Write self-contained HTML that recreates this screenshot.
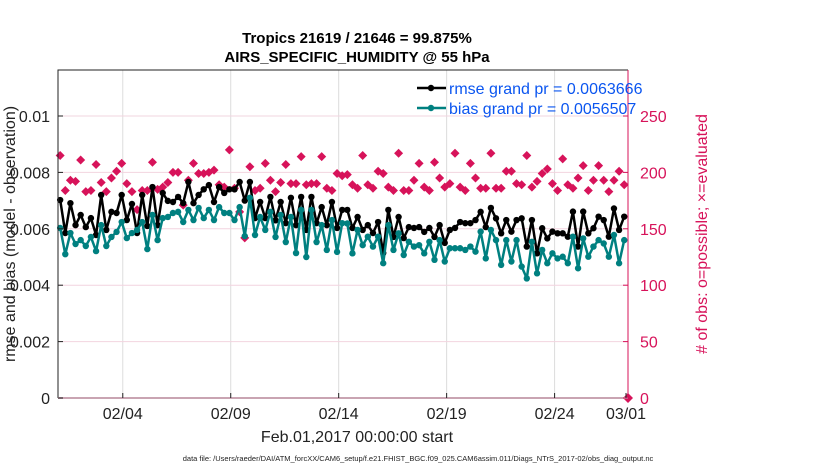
<!DOCTYPE html>
<html><head><meta charset="utf-8"><style>
body{margin:0;background:#fff;}
svg text{font-family:"Liberation Sans",sans-serif;}
</style></head><body>
<svg id="chart" width="830" height="470" xmlns="http://www.w3.org/2000/svg">
<rect width="830" height="470" fill="#fff"/>
<g id="grid"></g>
<g id="series"></g>
<g id="axes"></g>
</svg>
<script>
const rmseValues=[0.00702,0.00585,0.00691,0.00613,0.00649,0.00606,0.00638,0.00578,0.0072,0.00596,0.0066,0.00656,0.0072,0.00631,0.00688,0.00585,0.0072,0.0061,0.00748,0.00613,0.00727,0.00699,0.00695,0.00713,0.00691,0.00766,0.00691,0.0072,
0.0074,0.00755,0.00695,0.00748,0.00727,0.0074,0.0074,0.00766,0.007,0.00766,0.00638,0.00695,0.00638,0.00713,0.0063,0.00695,0.0062,0.0071,0.00613,0.00713,0.00596,0.00713,0.0062,0.00677,0.00613,0.00695,0.00603,0.00667,
0.00667,0.00603,0.00642,0.00596,0.00613,0.00585,0.00624,0.00514,0.00667,0.00571,0.00642,0.00567,0.00606,0.00603,0.00606,0.00589,0.00603,0.00571,0.00613,0.0055,0.00596,0.00603,0.00624,0.0062,0.0062,0.00631,0.0066,0.00606,0.00674,
0.00637,0.00584,0.00631,0.0059,0.00631,0.00637,0.00537,0.00631,0.00513,0.00602,0.00566,0.0059,0.00584,0.00584,0.00572,0.00661,0.00537,0.00661,0.00584,0.00602,0.00643,0.00631,0.00572,0.00672,0.00596,0.00643];
const biasValues=[0.00603,0.0051,0.00585,0.00546,0.0056,0.00539,0.00571,0.00521,0.00613,0.00539,0.00571,0.00589,0.00624,0.00567,0.00585,0.00596,0.00624,0.00528,0.00649,0.0056,0.00638,0.00642,0.00656,0.0066,0.00624,0.00667,0.00631,0.00674,
0.00638,0.00667,0.00631,0.00677,0.00656,0.00656,0.00631,0.00677,0.00574,0.0071,0.00578,0.00642,0.00596,0.0066,0.00571,0.00649,0.00553,0.00642,0.00514,0.00667,0.005,0.00667,0.00553,0.00613,0.00525,0.00631,0.00518,0.0062,
0.00619,0.00513,0.00596,0.00542,0.00572,0.00537,0.00572,0.00478,0.00613,0.00525,0.00584,0.00507,0.00554,0.00537,0.00542,0.00513,0.00554,0.0049,0.0056,0.00484,0.00531,0.00531,0.00531,0.00525,0.00537,0.00519,0.0059,0.00495,0.00596,
0.0056,0.00472,0.0056,0.00484,0.0056,0.00466,0.00424,0.00554,0.00442,0.00525,0.00478,0.00513,0.00495,0.00501,0.00478,0.00572,0.0046,0.00566,0.00501,0.00537,0.0056,0.00548,0.00501,0.00578,0.00478,0.0056];
const obsCounts=[215,184,193,192,211,183,184,207,191,183,195,201,208,190,183,167,184,184,209,185,187,191,200,200,171,193,208,199,
199,200,202,189,187,220,186,165,142,205,184,186,208,193,183,191,207,190,190,214,189,190,190,214,186,184,199,197,
198,189,186,215,189,186,201,199,187,184,217,184,184,193,208,187,184,209,195,187,190,217,187,184,208,195,186,186,217,
186,186,201,201,190,189,215,187,192,199,203,190,184,212,189,186,195,206,184,193,206,193,183,193,201,189];
const tickDays=[3,8,13,18,23,26.4];
const tickLabels=["02/04","02/09","02/14","02/19","02/24","03/01"];
const leftTicks=[0,0.002,0.004,0.006,0.008,0.01];
const leftTickLabels=["0","0.002","0.004","0.006","0.008","0.01"];
const rightTicks=[0,50,100,150,200,250];
const X0=58,X1=628,Y0=398,YT=70;
const dayMax=26.4;
const x=d=>X0+(d/dayMax)*(X1-X0);
const yL=v=>Y0-v/0.01*282;
const yR=c=>Y0-c/250*282;
const dayOf=i=>0.1+i*0.2375;
const NS="http://www.w3.org/2000/svg";
function mk(parent,tag,attrs,text){const e=document.createElementNS(NS,tag);for(const k in attrs)e.setAttribute(k,attrs[k]);if(text!==undefined)e.textContent=text;document.getElementById(parent).appendChild(e);return e;}
// grid
tickDays.slice(0,5).forEach((d,i)=>{const l=mk('grid','line',{x1:x(d),x2:x(d),y1:YT,y2:Y0,stroke:'#dcdcdc','stroke-width':1});

});
rightTicks.forEach(c=>{if(c===0)return;const l=mk('grid','line',{x1:X0,x2:X1,y1:yR(c),y2:yR(c),stroke:'#f2d4df','stroke-width':1});

});
// counts
obsCounts.forEach((c,i)=>{const cx=x(dayOf(i)),cy=yR(c);const p=mk('series','path',{d:`M${cx} ${cy-4.5}L${cx+4.5} ${cy}L${cx} ${cy+4.5}L${cx-4.5} ${cy}Z`,fill:'#d7135a'});

});
function line(vals,color,name){const pts=vals.map((v,i)=>`${x(dayOf(i)).toFixed(1)},${yL(v).toFixed(1)}`).join(' ');
const pl=mk('series','polyline',{points:pts,fill:'none',stroke:color,'stroke-width':2.5,'stroke-linejoin':'round'});


vals.forEach((v,i)=>{const c=mk('series','circle',{cx:x(dayOf(i)),cy:yL(v),r:3.2,fill:color});

});}
line(rmseValues,'#000','rmse');
line(biasValues,'#008080','bias');
// zero marker
const zm=mk('series','path',{d:`M${X1} ${Y0-5}L${X1+5} ${Y0}L${X1} ${Y0+5}L${X1-5} ${Y0}Z`,fill:'#d7135a'});


// axes
const ab=mk('axes','path',{d:`M${X0} ${Y0}V${YT}H${X1}`,fill:'none',stroke:'#222','stroke-width':1});


const bx=mk('axes','line',{x1:X0,x2:X1,y1:Y0,y2:Y0,stroke:'#c9a4b2','stroke-width':2});


const ry=mk('axes','line',{x1:X1,x2:X1,y1:YT,y2:Y0,stroke:'#d7135a','stroke-width':1});


leftTicks.forEach((v,i)=>{const t=mk('axes','text',{x:X0-8,y:yL(v)+6,'text-anchor':'end','font-size':16,fill:'#222'},leftTickLabels[i]);


const tk=mk('axes','line',{x1:X0,x2:X0+5,y1:yL(v),y2:yL(v),stroke:'#222'});

});
rightTicks.forEach(c=>{const t=mk('axes','text',{x:X1+12,y:yR(c)+6,'font-size':16,fill:'#d7135a'},String(c));


const tk=mk('axes','line',{x1:X1-5,x2:X1,y1:yR(c),y2:yR(c),stroke:'#d7135a'});

});
tickDays.forEach((d,i)=>{const xx=i===5?X1-2:x(d);const t=mk('axes','text',{x:xx,y:419,'text-anchor':'middle','font-size':16,fill:'#222'},tickLabels[i]);


const tk=mk('axes','line',{x1:xx,x2:xx,y1:Y0,y2:Y0-5,stroke:'#222'});

});
</script>
<svg style="position:absolute;left:0;top:0" width="830" height="470" xmlns="http://www.w3.org/2000/svg">
<text x="357" y="43" text-anchor="middle" font-size="15" font-weight="bold" fill="#000">Tropics 21619 / 21646 = 99.875%</text>
<text x="357" y="62" text-anchor="middle" font-size="15" font-weight="bold" fill="#000">AIRS_SPECIFIC_HUMIDITY @ 55 hPa</text>
<text transform="translate(15,234) rotate(-90)" text-anchor="middle" font-size="16" fill="#222">rmse and bias (model - observation)</text>
<text transform="translate(707,234) rotate(-90)" text-anchor="middle" font-size="16" fill="#d7135a"># of obs: o=possible; ×=evaluated</text>
<text x="357" y="442" text-anchor="middle" font-size="16" fill="#222">Feb.01,2017 00:00:00 start</text>
<text x="418" y="461" text-anchor="middle" font-size="7.5" fill="#222">data file: /Users/raeder/DAI/ATM_forcXX/CAM6_setup/f.e21.FHIST_BGC.f09_025.CAM6assim.011/Diags_NTrS_2017-02/obs_diag_output.nc</text>
<g>
<line x1="417" y1="88" x2="446" y2="88" stroke="#000" stroke-width="2.5"/><circle cx="431" cy="88" r="3.2" fill="#000"/>
<text x="449" y="94" font-size="16" fill="#0a55f0">rmse grand pr = 0.0063666</text>
<line x1="417" y1="108" x2="446" y2="108" stroke="#008080" stroke-width="2.5"/><circle cx="431" cy="108" r="3.2" fill="#008080"/>
<text x="449" y="114" font-size="16" fill="#0a55f0">bias grand pr = 0.0056507</text>
</g>
</svg>
</body></html>
